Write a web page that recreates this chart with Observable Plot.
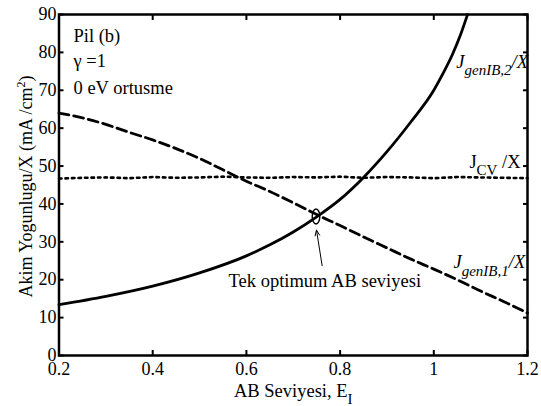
<!DOCTYPE html>
<html><head><meta charset="utf-8">
<script src="https://cdn.jsdelivr.net/npm/d3@7"></script>
<script src="https://cdn.jsdelivr.net/npm/@observablehq/plot@0.6"></script>
<style>
html,body{margin:0;padding:0;background:#fff}
svg{display:block}
svg text, svg tspan{font-family:"Liberation Serif","DejaVu Serif","Times New Roman",serif !important;}
</style>
</head><body><div id="chart"></div>
<script>
// ---- data ----
const xTicks = [0.2, 0.4, 0.6, 0.8, 1, 1.2];
const yTicks = [0, 10, 20, 30, 40, 50, 60, 70, 80, 90];

// J_genIB,2 / X (solid)
const genIB2E = [0.2, 0.3, 0.4, 0.5, 0.6, 0.65, 0.7, 0.75, 0.8, 0.85, 0.9, 0.95, 1.0, 1.02, 1.04, 1.056, 1.072];
const genIB2V = [13.4, 15.6, 18.3, 21.8, 26.3, 29.2, 32.6, 36.6, 41.2, 47.0, 53.8, 61.5, 70.0, 74.5, 79.5, 84.3, 90.0];

// J_genIB,1 / X (dashed)
const genIB1E = [0.2, 0.25, 0.3, 0.35, 0.4, 0.45, 0.5, 0.55, 0.6, 0.65, 0.7, 0.75, 0.8, 0.85, 0.9, 0.95, 1.0, 1.05, 1.1, 1.15, 1.2];
const genIB1V = [64.0, 62.7, 61.0, 58.9, 56.9, 54.6, 52.0, 49.0, 46.0, 43.3, 40.3, 37.2, 34.3, 31.3, 28.4, 25.5, 22.8, 20.0, 17.0, 14.2, 11.2];

// J_CV / X (dotted)
const cvE = [0.2, 0.25, 0.3, 0.35, 0.4, 0.45, 0.5, 0.55, 0.6, 0.65, 0.7, 0.75, 0.8, 0.85, 0.9, 0.95, 1.0, 1.05, 1.1, 1.15, 1.2];
const cvV = [46.7, 46.9, 47.0, 46.8, 47.1, 46.9, 47.0, 47.2, 47.0, 46.9, 47.1, 47.0, 47.2, 46.9, 47.1, 47.0, 46.8, 47.1, 47.0, 46.9, 46.8];

// annotations
const optimumE = [0.7486];
const optimumV = [36.7];
const arrowE = [0.7617, 0.7496];
const arrowV = [23.7, 33.1];
const curveLabels = ["J_{genIB,2}/X", "J_{CV} /X", "J_{genIB,1}/X", "Tek optimum AB seviyesi"];
const curveLabelE = [1.048, 1.076, 1.042, 0.562];
const curveLabelV = [76.0, 49.6, 23.0, 18.2];
const curveLabelItalic = [true, false, true, false];
const cornerLines = ["Pil (b)", "γ =1", "0 eV ortusme"];
const xLabel = "AB Seviyesi, E_{I}";
const yLabel = "Akim Yogunlugu/X (mA /cm^{2})";

// ---- build tables ----
const rows = (E, V) => E.map((e, i) => ({e, v: V[i]}));
const solid = rows(genIB2E, genIB2V);
const dashed = rows(genIB1E, genIB1V);
const dotted = rows(cvE, cvV);
const optimum = rows(optimumE, optimumV);
const labels = curveLabels.map((t, i) => ({t, e: curveLabelE[i], v: curveLabelV[i], it: curveLabelItalic[i]}));

const ellipseSymbol = {
  draw(ctx) {
    const rx = 3.8, ry = 7.5, k = 0.5523;
    ctx.moveTo(rx, 0);
    ctx.bezierCurveTo(rx, k * ry, k * rx, ry, 0, ry);
    ctx.bezierCurveTo(-k * rx, ry, -rx, k * ry, -rx, 0);
    ctx.bezierCurveTo(-rx, -k * ry, -k * rx, -ry, 0, -ry);
    ctx.bezierCurveTo(k * rx, -ry, rx, -k * ry, rx, 0);
    ctx.closePath();
  }
};

const cornerDy = [27, 52.5, 79];

const chart = Plot.plot({
  width: 541,
  height: 406,
  marginTop: 14,
  marginRight: 14,
  marginBottom: 51,
  marginLeft: 58.5,
  x: {domain: [0.2, 1.2]},
  y: {domain: [0, 90]},
  style: {fontFamily: "Liberation Serif, serif", fontSize: "18px", color: "black", background: "white"},
  marks: [
    Plot.line(dotted, {x: "e", y: "v", stroke: "black", strokeWidth: 2.6, strokeDasharray: "2.5,4"}),
    Plot.line(dashed, {x: "e", y: "v", stroke: "black", strokeWidth: 2.8, strokeDasharray: "10,5", curve: "monotone-x"}),
    Plot.line(solid, {x: "e", y: "v", stroke: "black", strokeWidth: 2.8, curve: "monotone-x"}),
    Plot.dot(optimum, {x: "e", y: "v", symbol: ellipseSymbol, r: 5, stroke: "black", fill: "none", strokeWidth: 1.4}),
    Plot.arrow([0], {x1: () => arrowE[0], y1: () => arrowV[0], x2: () => arrowE[1], y2: () => arrowV[1], stroke: "black", strokeWidth: 1, headLength: 9, headAngle: 45}),
    Plot.axisX(xTicks, {anchor: "bottom", tickSize: -5, tickPadding: 12, strokeWidth: 2, tickFormat: d => String(d), label: null, fontSize: 18}),
    Plot.axisX(xTicks, {anchor: "top", tickSize: -5, strokeWidth: 2, tickFormat: () => "", label: null}),
    Plot.axisY(yTicks, {anchor: "left", tickSize: -5, tickPadding: 7.5, strokeWidth: 2, tickFormat: d => String(d), label: null, fontSize: 18}),
    Plot.axisY(yTicks, {anchor: "right", tickSize: -5, strokeWidth: 2, tickFormat: () => "", label: null}),
    Plot.frame({stroke: "black", strokeWidth: 2.5}),
    Plot.text(labels.filter(d => d.it), {x: "e", y: "v", text: "t", textAnchor: "start", lineAnchor: "bottom", fontStyle: "italic", fontSize: 18.5, fill: "black"}),
    Plot.text(labels.filter(d => !d.it), {x: "e", y: "v", text: "t", textAnchor: "start", lineAnchor: "bottom", fontSize: 18.5, fill: "black"}),
    Plot.text(cornerLines, {frameAnchor: "top-left", text: d => d, dx: 14.5, textAnchor: "start", lineAnchor: "bottom", fontSize: 18.5, fill: "black", className: "corner"}),
    Plot.text([xLabel], {frameAnchor: "bottom", text: d => d, dy: 41, textAnchor: "middle", lineAnchor: "bottom", fontSize: 18.5, fill: "black"}),
    Plot.text([yLabel], {frameAnchor: "left", text: d => d, dx: -27.5, dy: 1.5, rotate: -90, textAnchor: "middle", lineAnchor: "bottom", fontSize: 18, fill: "black"})
  ]
});

// corner lines: each line gets its own vertical offset
chart.querySelectorAll(".corner text").forEach((t, i) => {
  t.setAttribute("dy", cornerDy[i] + "px");
});

// rich text: _{...} subscripts and ^{...} superscripts
const NS = "http://www.w3.org/2000/svg";
chart.querySelectorAll("text").forEach(t => {
  const s = t.textContent;
  if (!/[_^]\{/.test(s)) return;
  while (t.firstChild) t.removeChild(t.firstChild);
  const re = /([_^])\{([^}]*)\}/g;
  let last = 0, cur = 0, m;
  const add = (txt, off, size) => {
    const ts = document.createElementNS(NS, "tspan");
    ts.textContent = txt;
    const d = off - cur;
    if (d) ts.setAttribute("dy", d);
    if (size) ts.setAttribute("font-size", size);
    cur = off;
    t.appendChild(ts);
  };
  while ((m = re.exec(s))) {
    if (m.index > last) add(s.slice(last, m.index), 0, null);
    if (m[1] === "_") add(m[2], 7.5, 15); else add(m[2], -7, 12);
    last = re.lastIndex;
  }
  if (last < s.length) add(s.slice(last), 0, null);
});

document.getElementById("chart").appendChild(chart);
</script>
</body></html>
